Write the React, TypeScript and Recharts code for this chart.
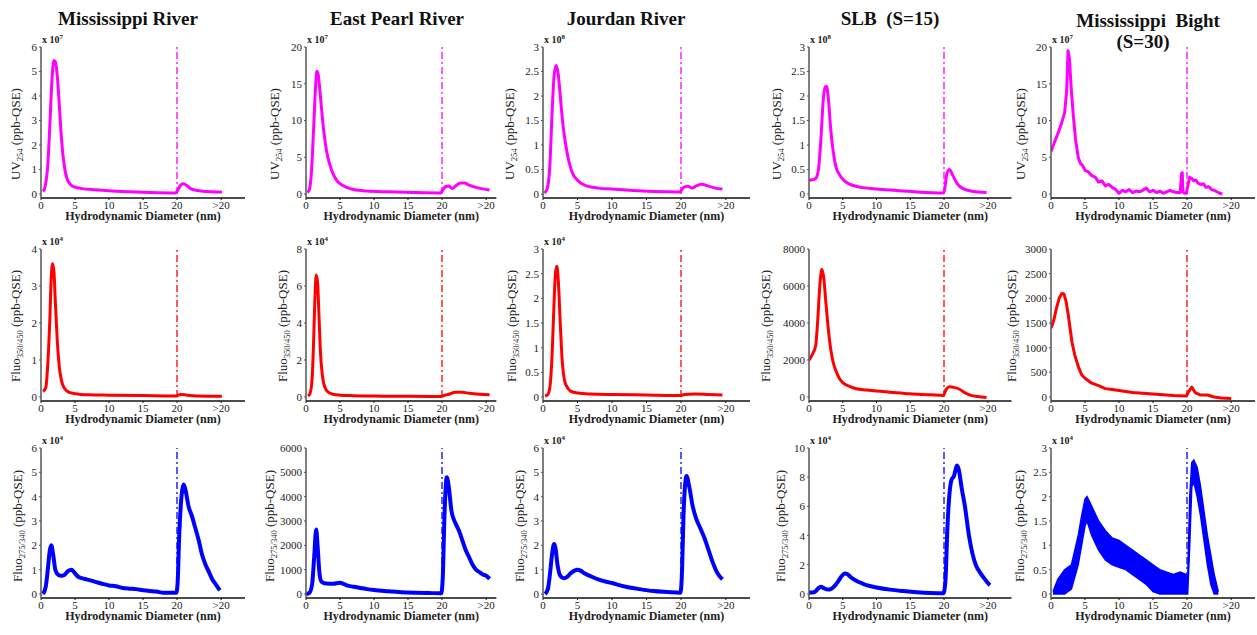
import React from 'react';
import { ComposedChart, Line, Area, XAxis, YAxis, ReferenceLine } from 'recharts';

const FONT = "'Liberation Serif', 'Times New Roman', Times, serif";

// ---------- shared axis labels ----------
const titles = ['Mississippi River', 'East Pearl River', 'Jourdan River', 'SLB  (S=15)', 'Mississippi  Bight'];
const titleLine2 = ['', '', '', '', '(S=30)'];
const xTicks = [0, 5, 10, 15, 20, 26.5];
const xTickLabels = ['0', '5', '10', '15', '20', '>20'];
const xLabel = 'Hydrodynamic Diameter (nm)';
const rowYLabelMain = ['UV', 'Fluo', 'Fluo'];
const rowYLabelSub = ['254', '350/450', '275/340'];
const yLabelUnit = ' (ppb-QSE)';

// ---------- Row 1: UV254 ----------
const r1c1X = [0.3, 0.6, 1.0, 1.3, 1.6, 1.9, 2.1, 2.4, 2.7, 3.0, 3.4, 3.8, 4.3, 5, 6, 8, 10, 13, 16, 19.8, 20.1, 20.5, 20.9, 21.4, 22, 23, 24.5, 26.6];
const r1c1Y = [0.1, 0.3, 1.2, 2.8, 4.6, 5.45, 5.4, 4.8, 3.6, 2.3, 1.2, 0.65, 0.4, 0.28, 0.22, 0.17, 0.13, 0.09, 0.06, 0.04, 0.15, 0.35, 0.42, 0.36, 0.22, 0.14, 0.1, 0.08];

const r1c2X = [0.2, 0.5, 0.8, 1.1, 1.4, 1.6, 1.8, 2.1, 2.5, 3.0, 3.5, 4.0, 4.5, 5, 6, 7, 9, 12, 16, 19.8, 20.1, 20.5, 21, 21.5, 22, 22.7, 23.3, 24, 25, 26, 27];
const r1c2Y = [0.2, 0.6, 3, 8.5, 14.5, 16.7, 16.2, 13.5, 9.5, 6.0, 4.0, 2.7, 1.9, 1.4, 0.9, 0.6, 0.4, 0.3, 0.2, 0.15, 0.5, 1.0, 1.1, 0.75, 1.1, 1.5, 1.5, 1.2, 0.9, 0.7, 0.55];

const r1c3X = [0.2, 0.6, 1.0, 1.3, 1.6, 1.9, 2.2, 2.5, 2.9, 3.3, 3.7, 4.2, 5, 6, 8, 10, 13, 16, 19.9, 20.1, 20.6, 21, 21.6, 22.3, 23, 24, 25, 26];
const r1c3Y = [0.02, 0.1, 0.6, 1.6, 2.4, 2.62, 2.45, 2.0, 1.4, 1.0, 0.7, 0.45, 0.28, 0.18, 0.12, 0.1, 0.07, 0.05, 0.04, 0.09, 0.15, 0.16, 0.12, 0.17, 0.2, 0.16, 0.12, 0.1];

const r1c4X = [0, 0.5, 1.0, 1.4, 1.8, 2.1, 2.4, 2.6, 2.9, 3.2, 3.6, 4.0, 4.5, 5, 6, 8, 10, 13, 16, 19.9, 20.1, 20.4, 20.8, 21.3, 22, 23, 24, 25, 26.3];
const r1c4Y = [0.28, 0.29, 0.32, 0.5, 1.2, 1.9, 2.18, 2.2, 1.9, 1.35, 0.85, 0.55, 0.4, 0.3, 0.2, 0.13, 0.1, 0.07, 0.04, 0.02, 0.1, 0.4, 0.5, 0.38, 0.2, 0.1, 0.06, 0.04, 0.03];

const r1c5X = [0, 0.5, 1, 1.5, 2, 2.3, 2.5, 2.7, 3, 3.3, 3.6, 4, 4.3, 4.7, 5, 5.5, 6, 6.5, 7, 7.5, 8, 8.5, 9, 9.5, 10, 10.5, 11, 11.5, 12, 12.5, 13, 13.5, 14, 14.5, 15, 15.5, 16, 16.5, 17, 17.5, 18, 18.5, 19, 19.2, 19.3, 19.4, 19.6, 19.9, 20.2, 20.4, 20.7, 21, 21.3, 21.6, 22, 22.4, 22.8, 23.2, 23.6, 24, 24.4, 24.8, 25.2];
const r1c5Y = [5.8, 7, 8.2, 9.5, 11, 14, 19.5, 18.5, 14, 10.5, 7.5, 5, 4.2, 3.8, 3.2, 3.0, 2.5, 2.3, 1.6, 1.8, 1.1, 1.3, 0.9, 0.6, 0.1, 0.5, 0.3, 0.6, 0.2, 0.4, 0.3, 0.5, 0.8, 0.3, 0.5, 0.2, 0.4, 0.1, 0.3, 0.5, 0.3, 0.2, 0.2, 2.8, 2.9, 0.3, 0.1, 0.1, 1.5, 2.3, 2.1, 1.8, 1.9, 1.5, 1.3, 1.4, 0.9, 1.0, 0.6, 0.5, 0.3, 0.1, 0.0];

// ---------- Row 2: Fluo 350/450 ----------
const r2c1X = [0.3, 0.7, 1.0, 1.3, 1.5, 1.7, 1.9, 2.1, 2.4, 2.7, 3.0, 3.5, 4, 5, 7, 10, 15, 19.9, 20.5, 21.5, 23, 26.6];
const r2c1Y = [0.15, 0.25, 0.9, 2.1, 3.2, 3.6, 3.4, 2.6, 1.5, 0.8, 0.45, 0.22, 0.14, 0.09, 0.06, 0.05, 0.04, 0.03, 0.07, 0.05, 0.03, 0.02];

const r2c2X = [0.3, 0.6, 0.9, 1.1, 1.3, 1.5, 1.7, 1.9, 2.1, 2.4, 2.8, 3.3, 4, 5, 7, 10, 15, 19.9, 20.3, 21, 22, 23, 24, 25.5, 27];
const r2c2Y = [0.05, 0.2, 1, 2.8, 5.2, 6.6, 6.2, 4.5, 2.6, 1.2, 0.5, 0.25, 0.15, 0.1, 0.07, 0.05, 0.04, 0.03, 0.08, 0.15, 0.25, 0.25, 0.2, 0.15, 0.12];

const r2c3X = [0.3, 0.7, 1.0, 1.3, 1.6, 1.8, 2.0, 2.2, 2.5, 2.8, 3.1, 3.5, 4, 5, 7, 10, 15, 19.9, 20.5, 22, 24, 26];
const r2c3Y = [0.02, 0.05, 0.2, 0.8, 1.9, 2.5, 2.65, 2.4, 1.5, 0.7, 0.35, 0.2, 0.12, 0.08, 0.06, 0.05, 0.04, 0.03, 0.05, 0.06, 0.05, 0.04];

const r2c4X = [0, 0.5, 1, 1.3, 1.6, 1.9, 2.2, 2.5, 2.8, 3.1, 3.5, 4, 4.5, 5, 6, 7, 8.5, 10, 12, 15, 18, 19.9, 20.3, 20.8, 21.5, 22.3, 23, 24, 25, 26.3];
const r2c4Y = [2000, 2300, 2800, 4200, 6000, 6900, 6400, 5100, 3900, 2900, 2000, 1400, 1000, 780, 580, 450, 380, 320, 260, 170, 120, 80, 400, 560, 520, 420, 250, 90, 30, -30];

const r2c5X = [0, 0.4, 0.8, 1.2, 1.6, 1.9, 2.2, 2.5, 2.8, 3.1, 3.5, 4, 4.5, 5, 6, 7, 8, 9, 10, 12, 14, 16, 18, 19.9, 20.3, 20.7, 21.2, 22, 23, 24, 25, 26.5];
const r2c5Y = [1400, 1550, 1800, 2000, 2100, 2090, 1950, 1700, 1400, 1100, 850, 620, 450, 380, 280, 230, 170, 150, 130, 90, 70, 50, 30, 20, 120, 200, 90, 40, 40, 0, -20, -30];

// ---------- Row 3: Fluo 275/340 ----------
const r3c1X = [0.3, 0.7, 1.0, 1.3, 1.5, 1.8, 2.1, 2.5, 3, 3.5, 4, 4.5, 5, 5.5, 6, 7, 8, 9, 10, 11, 12, 13, 14, 15, 16, 17, 18, 19, 19.9, 20.1, 20.3, 20.6, 21, 21.3, 21.7, 22.2, 22.7, 23.2, 23.7, 24.2, 24.7, 25.2, 25.7, 26.3];
const r3c1Y = [0, 0.3, 1.0, 1.8, 2.0, 1.6, 1.0, 0.8, 0.75, 0.8, 0.95, 1.0, 0.85, 0.7, 0.65, 0.58, 0.5, 0.42, 0.35, 0.32, 0.25, 0.22, 0.2, 0.15, 0.12, 0.1, 0.05, 0.05, 0.05, 0.5, 2.2, 3.8, 4.5, 4.2, 3.6, 3.2, 2.7, 2.2, 1.6, 1.2, 0.9, 0.6, 0.4, 0.15];

const r3c2X = [0, 0.5, 0.9, 1.2, 1.5, 1.7, 2.0, 2.3, 3, 4, 5, 5.5, 6, 7, 8, 9, 10, 12, 14, 16, 18, 19.9, 20.1, 20.4, 20.7, 21, 21.4, 22, 22.5, 23, 23.5, 24, 24.5, 25, 25.5, 26, 26.5, 27];
const r3c2Y = [0, 50, 400, 1500, 2650, 2000, 800, 500, 430, 420, 460, 420, 350, 300, 250, 200, 160, 110, 70, 50, 40, 30, 600, 3500, 4800, 4400, 3400, 2900, 2600, 2200, 1800, 1500, 1200, 1000, 900, 800, 750, 620];

const r3c3X = [0.3, 0.7, 1.0, 1.3, 1.6, 1.8, 2.1, 2.5, 3, 3.5, 4, 4.5, 5, 5.5, 6, 7, 8, 10, 12, 14, 16, 18, 19.9, 20.1, 20.4, 20.8, 21.2, 21.7, 22.2, 22.8, 23.4, 24, 24.6, 25.2, 26];
const r3c3Y = [0, 0.2, 0.8, 1.6, 2.05, 1.9, 1.2, 0.75, 0.65, 0.7, 0.85, 0.95, 1.0, 0.95, 0.85, 0.72, 0.6, 0.45, 0.3, 0.2, 0.12, 0.08, 0.05, 0.6, 3.5, 4.85, 4.4, 3.6, 3.1, 2.7, 2.3, 1.8, 1.3, 0.9, 0.6];

const r3c4X = [0, 0.5, 1, 1.4, 1.8, 2.2, 2.8, 3.3, 3.8, 4.3, 4.8, 5.3, 5.7, 6.2, 7, 8, 9, 10, 12, 14, 16, 18, 19.9, 20.2, 20.5, 20.8, 21.1, 21.5, 21.9, 22.2, 22.6, 23.1, 23.7, 24.2, 24.7, 25.3, 25.9, 26.4, 26.8];
const r3c4Y = [0.1, 0.1, 0.2, 0.4, 0.5, 0.4, 0.3, 0.35, 0.55, 0.85, 1.2, 1.4, 1.35, 1.15, 0.9, 0.7, 0.55, 0.45, 0.3, 0.2, 0.12, 0.07, 0.05, 0.8, 4.5, 6.8, 7.8, 8.1, 8.8, 8.5, 7.3, 6.0, 4.0, 2.8, 2.0, 1.5, 1.1, 0.8, 0.6];

// noisy band (low / high envelope)
const r3c5X = [0.3, 1, 2, 3, 4, 4.5, 5, 5.3, 6, 7, 8, 9, 10, 11, 12, 13, 14, 15, 16, 17, 18, 19, 19.9, 20.1, 20.4, 20.7, 21.0, 21.5, 22, 22.5, 23, 23.5, 24, 24.6];
const r3c5Lo = [0, 0, 0, 0.1, 0.6, 1.0, 1.4, 1.5, 1.2, 0.9, 0.7, 0.6, 0.55, 0.5, 0.4, 0.3, 0.2, 0.05, 0, 0, 0, 0, 0, 0, 1.0, 2.2, 2.3, 2.0, 1.6, 1.1, 0.6, 0.2, 0, 0];
const r3c5Hi = [0.05, 0.3, 0.5, 0.6, 1.2, 1.6, 1.95, 2.0, 1.8, 1.5, 1.3, 1.15, 1.1, 1.0, 0.9, 0.8, 0.7, 0.6, 0.5, 0.45, 0.4, 0.45, 0.4, 0.3, 2.0, 2.7, 2.75, 2.6, 2.2, 1.7, 1.2, 0.8, 0.4, 0.05];

// ---------- y ticks ----------
const yTicks = [
  [[0, 1, 2, 3, 4, 5, 6], [0, 5, 10, 15, 20], [0, 0.5, 1, 1.5, 2, 2.5, 3], [0, 0.5, 1, 1.5, 2, 2.5, 3], [0, 5, 10, 15, 20]],
  [[0, 1, 2, 3, 4], [0, 2, 4, 6, 8], [0, 0.5, 1, 1.5, 2, 2.5, 3], [0, 2000, 4000, 6000, 8000], [0, 500, 1000, 1500, 2000, 2500, 3000]],
  [[0, 1, 2, 3, 4, 5, 6], [0, 1000, 2000, 3000, 4000, 5000, 6000], [0, 1, 2, 3, 4, 5, 6], [0, 2, 4, 6, 8, 10], [0, 0.5, 1, 1.5, 2, 2.5, 3]],
];
const exponents = [
  ['7', '7', '8', '8', '7'],
  ['4', '4', '4', '', ''],
  ['4', '', '4', '4', '4'],
];

const seriesX = [
  [r1c1X, r1c2X, r1c3X, r1c4X, r1c5X],
  [r2c1X, r2c2X, r2c3X, r2c4X, r2c5X],
  [r3c1X, r3c2X, r3c3X, r3c4X, r3c5X],
];
const seriesY = [
  [r1c1Y, r1c2Y, r1c3Y, r1c4Y, r1c5Y],
  [r2c1Y, r2c2Y, r2c3Y, r2c4Y, r2c5Y],
  [r3c1Y, r3c2Y, r3c3Y, r3c4Y, null],
];
const noisy = [
  [false, false, false, false, true],
  [false, false, false, false, true],
  [false, false, false, false, true],
];

// ---------- layout ----------
const colLeft = [41, 306, 543, 809, 1051];
const colMax = [30, 28, 30, 30, 30];
const pxPerUnit = [6.8, 6.8, 6.9, 6.75, 6.8];
const rowTop = [47, 249, 448];
const rowBottom = [198, 401, 598];
const rowColor = ['#ff00ff', '#ff0000', '#0000ff'];
const yLabelOffset = [
  [24, 30, 32, 31, 29],
  [24, 22, 30, 42, 38],
  [22, 35, 22, 27, 30],
];
const yLabelCy = [134, 326, 526];

const ML = 44, MR = 6, MT = 8, XH = 22;

const fmt = (v: number) => String(v);

function Panel({ r, c }: { r: number; c: number }) {
  const W = colMax[c] * pxPerUnit[c];
  const H = rowBottom[r] - rowTop[r];
  const ticks = yTicks[r][c];
  const yMax = ticks[ticks.length - 1];
  const yMin = -yMax * 4 / (H - 4);
  const color = rowColor[r];
  const xs = seriesX[r][c];
  const ys = seriesY[r][c];
  const band = r === 2 && c === 4;
  const data = xs.map((x, i) =>
    band ? { x, band: [r3c5Lo[i], r3c5Hi[i]] } : { x, y: (ys as number[])[i] }
  );
  return (
    <div style={{ position: 'absolute', left: colLeft[c] - ML, top: rowTop[r] - MT, fontFamily: FONT }}>
      <ComposedChart width={ML + W + MR} height={MT + H + XH} data={data}
        margin={{ top: MT, right: MR, left: 0, bottom: 0 }} style={{ fontFamily: FONT }}>
        <XAxis type="number" dataKey="x" domain={[0, colMax[c]]} ticks={xTicks}
          tickFormatter={(v: number) => xTickLabels[xTicks.indexOf(v)] ?? String(v)}
          height={XH} tickSize={2} tickMargin={1} interval={0}
          axisLine={{ stroke: '#111', strokeWidth: 1.5 }} tickLine={{ stroke: '#111' }}
          tick={{ fontSize: 11, fill: '#222', fontFamily: FONT }} allowDataOverflow />
        <YAxis type="number" domain={[yMin, yMax]} ticks={ticks} width={ML} interval={0}
          tickFormatter={fmt} tickSize={2} tickMargin={2}
          axisLine={{ stroke: '#555', strokeWidth: 1.5 }} tickLine={{ stroke: '#555' }}
          tick={{ fontSize: 11, fill: '#222', fontFamily: FONT }} allowDataOverflow />
        <ReferenceLine segment={[{ x: 20, y: 0 }, { x: 20, y: yMax }]} stroke={color}
          strokeWidth={1.3} strokeDasharray="7 3 2 3" ifOverflow="visible" />
        {band ? (
          <Area type="linear" dataKey="band" stroke={color} strokeWidth={1.5} fill={color}
            fillOpacity={1} isAnimationActive={false} dot={false} activeDot={false} />
        ) : (
          <Line type={noisy[r][c] ? 'linear' : 'monotone'} dataKey="y" stroke={color}
            strokeWidth={r === 2 ? 4 : 3} strokeLinejoin="round"
            dot={false} activeDot={false} isAnimationActive={false} />
        )}
      </ComposedChart>
    </div>
  );
}

const abs = (style: React.CSSProperties): React.CSSProperties => ({
  position: 'absolute', whiteSpace: 'pre', fontFamily: FONT, lineHeight: 1, ...style,
});

export default function App() {
  const panels: React.ReactElement[] = [];
  const texts: React.ReactElement[] = [];
  for (let r = 0; r < 3; r++) {
    for (let c = 0; c < 5; c++) {
      panels.push(<Panel key={`p${r}${c}`} r={r} c={c} />);
      const W = colMax[c] * pxPerUnit[c];
      texts.push(
        <div key={`xl${r}${c}`} style={abs({ left: colLeft[c] + W / 2, top: rowBottom[r] + 12, transform: 'translateX(-50%)', fontSize: 12, fontWeight: 'bold', color: '#222' })}>
          {xLabel}
        </div>
      );
      texts.push(
        <div key={`yl${r}${c}`} style={abs({ left: colLeft[c] - yLabelOffset[r][c], top: yLabelCy[r], transform: 'translate(-50%,-50%) rotate(-90deg)', fontSize: 13, color: '#222' })}>
          {rowYLabelMain[r]}<sub style={{ fontSize: 8.5, verticalAlign: '-3px' }}>{rowYLabelSub[r]}</sub>{yLabelUnit}
        </div>
      );
      if (exponents[r][c]) {
        texts.push(
          <div key={`ex${r}${c}`} style={abs({ left: colLeft[c] + 1, top: rowTop[r] - 13, fontSize: 10, fontWeight: 'bold', color: '#222' })}>
            x 10<sup style={{ fontSize: 7, verticalAlign: '4px' }}>{exponents[r][c]}</sup>
          </div>
        );
      }
    }
  }
  const titleCx = [128, 397, 626, 890, 1148];
  return (
    <div style={{ position: 'absolute', left: 0, top: 0, width: 1257, height: 635, background: '#fff', overflow: 'hidden', fontFamily: FONT }}>
      {panels}
      {texts}
      {titles.map((t, c) => (
        <div key={`t${c}`} style={abs({ left: titleCx[c], top: c === 4 ? 11 : 9, transform: 'translateX(-50%)', fontSize: 19, fontWeight: 'bold', color: '#111' })}>
          {t}
        </div>
      ))}
      {titleLine2.map((t, c) => t ? (
        <div key={`t2${c}`} style={abs({ left: 1143, top: 32, transform: 'translateX(-50%)', fontSize: 19, fontWeight: 'bold', color: '#111' })}>
          {t}
        </div>
      ) : null)}
    </div>
  );
}
